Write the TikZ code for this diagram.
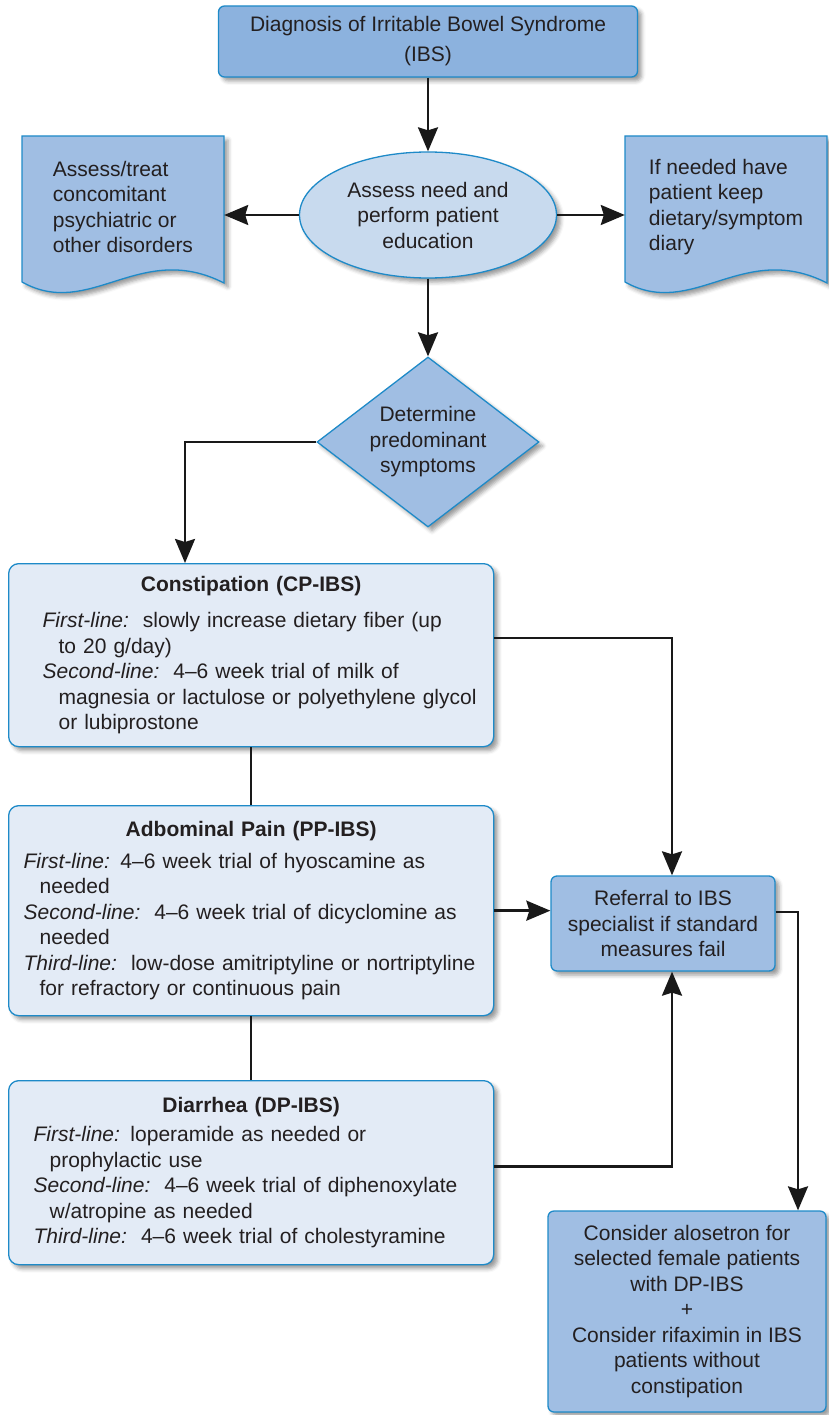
\documentclass[tikz,border=0pt]{standalone}
\usepackage{fontspec}
\setmainfont{Liberation Sans}
\usepackage{tikz}
\usetikzlibrary{arrows.meta,positioning,calc,shapes.geometric,shadows.blur}
\definecolor{boxblue}{RGB}{140,178,222}
\definecolor{midblue}{RGB}{160,190,227}
\definecolor{paleblue}{RGB}{200,218,238}
\definecolor{lightblue}{RGB}{227,235,246}
\definecolor{rimblue}{RGB}{30,138,200}
\definecolor{inkgray}{RGB}{35,31,32}
\newcommand\bodyfont{\fontsize{21}{25.5}\selectfont\parindent=0pt}
% document shape with a wavy bottom, from its top left corner
\newcommand\wavydoc[1]{%
  \path[docshape,shift={(#1)}] (0,0) -- (202,0) -- (202,147)
    .. controls (118,104) and (68,184) .. (0,146) -- cycle;}
\tikzset{
  arr/.style={-{Stealth[length=24pt,width=20pt,inset=3pt]},line width=2.5pt,draw=black!90},
  joinline/.style={line width=2.5pt,draw=black!90},
  softshadow/.style={blur shadow={shadow xshift=4pt,shadow yshift=-4pt,
    shadow blur radius=4pt,shadow opacity=40}},
  darkbox/.style={rectangle,rounded corners=6pt,draw=rimblue,line width=1.3pt,
    fill=boxblue,softshadow,align=center,inner sep=2pt,text=inkgray,font=\bodyfont},
  midbox/.style={darkbox,fill=midblue},
  edunode/.style={ellipse,draw=rimblue,line width=1.3pt,fill=paleblue,softshadow,
    align=center,inner sep=1pt,text=inkgray,font=\bodyfont},
  decision/.style={diamond,aspect=1.3,draw=rimblue,line width=1.3pt,fill=midblue,
    softshadow,align=center,inner sep=0pt,text=inkgray,font=\bodyfont},
  docnode/.style={rectangle,align=left,inner sep=0pt,minimum width=202pt,
    minimum height=147pt,text=inkgray,font=\bodyfont},
  docshape/.style={draw=rimblue,line width=1.3pt,fill=midblue,softshadow},
  lightbox/.style={rectangle,rounded corners=10pt,draw=rimblue,line width=1.3pt,
    fill=lightblue,softshadow,align=left,text width=465pt,inner xsep=10pt,
    inner ysep=0pt,text=inkgray,font=\bodyfont}
}

\begin{document}
\begin{tikzpicture}[x=1pt,y=-1pt]
\useasboundingbox (0,0) rectangle (828,1415);

% diagnosis and education
\node[darkbox,minimum width=419pt,minimum height=71pt] (diag) at (428,41.5)
  {Diagnosis of Irritable Bowel Syndrome\\[4.5pt](IBS)};

\node[edunode,minimum width=257pt,minimum height=126pt] (edu) at (428,215)
  {Assess need and\\perform patient\\education};

\coordinate (assesscorner) at (22,136);
\coordinate (diarycorner) at (625,136);
\wavydoc{assesscorner}
\wavydoc{diarycorner}
\node[docnode] (assess) at ($(assesscorner)+(101,71)$)
  {Assess/treat\\concomitant\\psychiatric or\\other disorders};
\node[docnode] (diary) at ($(diarycorner)+(101,71)$)
  {If needed have\\patient keep\\dietary/symptom\\diary};

\node[decision,minimum width=222pt,minimum height=170pt] (sym) at (428,442)
  {Determine\\predominant\\symptoms};

% symptom groups
\node[lightbox,anchor=north west,minimum height=183pt] (cp) at (8,563)
  {{\centering\bfseries Constipation (CP-IBS)\par}\vspace{10.5pt}\leftskip=24pt
   \textit{First-line:}\ \ slowly increase dietary fiber (up\\
   \hspace*{16pt}to 20 g/day)\\
   \textit{Second-line:}\ \ 4--6 week trial of milk of\\
   \hspace*{16pt}magnesia or lactulose or polyethylene glycol\\
   \hspace*{16pt}or lubiprostone\par};

\node[lightbox,anchor=north west,minimum height=210pt] (pp) at (8,805)
  {{\centering\bfseries Adbominal Pain (PP-IBS)\par}\vspace{6.5pt}\leftskip=5pt
   \textit{First-line:} 4--6 week trial of hyoscamine as\\
   \hspace*{16pt}needed\\
   \textit{Second-line:}\ \ 4--6 week trial of dicyclomine as\\
   \hspace*{16pt}needed\\
   \textit{Third-line:}\ \ low-dose amitriptyline or nortriptyline\\
   \hspace*{16pt}for refractory or continuous pain\par};

\node[lightbox,anchor=north west,minimum height=184pt] (dp) at (8,1080)
  {{\centering\bfseries Diarrhea (DP-IBS)\par}\vspace{3.5pt}\leftskip=15pt
   \textit{First-line:} loperamide as needed or\\
   \hspace*{16pt}prophylactic use\\
   \textit{Second-line:}\ \ 4--6 week trial of diphenoxylate\\
   \hspace*{16pt}w/atropine as needed\\
   \textit{Third-line:}\ \ 4--6 week trial of cholestyramine\par};

% referral and last step
\node[midbox,minimum width=224pt,minimum height=95pt] (ref) at (663,923.5)
  {Referral to IBS\\specialist if standard\\measures fail};

\node[midbox,minimum width=278pt,minimum height=201pt] (alo) at (687,1311.5)
  {Consider alosetron for\\selected female patients\\with DP-IBS\\+\\
   Consider rifaximin in IBS\\patients without\\constipation};

% connectors
\draw[arr] (diag) -- (edu);
\draw[arr] (edu.west) -- (edu.west -| assess.east);
\draw[arr] (edu.east) -- (edu.east -| diary.west);
\draw[arr] (edu) -- (sym);
\coordinate (cpin) at (185,563);
\draw[arr] (sym.west) -| (cpin);
\draw[joinline] (cp) -- (pp);
\draw[joinline] (pp) -- (dp);
\draw[arr] ([yshift=17pt]cp.east) -| ([xshift=9pt]ref.north);
\draw[arr] (pp.east) -- (pp.east -| ref.west);
\draw[arr] ([yshift=6pt]dp.east) -| ([xshift=9pt]ref.south);
\draw[arr] ([yshift=11.5pt]ref.east) -| ([xshift=111pt]alo.north);

\end{tikzpicture}
\end{document}
